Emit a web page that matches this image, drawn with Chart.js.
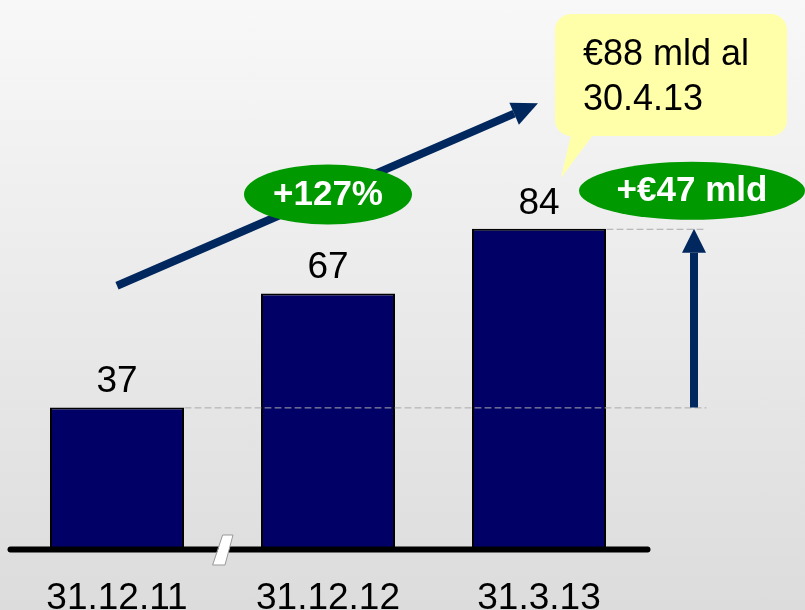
<!DOCTYPE html>
<html>
<head>
<meta charset="UTF-8" />
<title>Crescita</title>
<script src="https://cdn.jsdelivr.net/npm/chart.js@4.4.0/dist/chart.umd.min.js"></script>
<style>
    body { margin: 0; width: 805px; height: 610px; overflow: hidden;
           background: linear-gradient(#f8f8f8, #dcdcdc); }
</style>
</head>
<body>
<canvas id="barChart" width="805" height="610"></canvas>
<script>
// data
var dates = ["31.12.11", "31.12.12", "31.3.13"];
var values = [37, 67, 84];
var growthLabel = "+127%";
var deltaLabel = "+€47 mld";
var noteLines = ["€88 mld al", "30.4.13"];

var FONT = '"Liberation Sans", Arial, sans-serif';
var NAVY = "#00285e";
var GREEN = "#009900";

function ellipseLabel(ctx, cx, cy, rx, ry, text) {
    ctx.fillStyle = GREEN;
    ctx.beginPath();
    ctx.ellipse(cx, cy, rx, ry, 0, 0, Math.PI * 2);
    ctx.fill();
    ctx.fillStyle = "#fff";
    ctx.font = "bold 35px " + FONT;
    ctx.textAlign = "center";
    ctx.textBaseline = "middle";
    ctx.fillText(text, cx, cy + 1);
}

function arrow(ctx, x1, y1, x2, y2, w, headLen, headW) {
    var a = Math.atan2(y2 - y1, x2 - x1);
    var bx = x2 - Math.cos(a) * headLen, by = y2 - Math.sin(a) * headLen;
    ctx.strokeStyle = NAVY;
    ctx.fillStyle = NAVY;
    ctx.lineWidth = w;
    ctx.lineCap = "butt";
    ctx.beginPath();
    ctx.moveTo(x1, y1);
    ctx.lineTo(bx, by);
    ctx.stroke();
    ctx.beginPath();
    ctx.moveTo(x2, y2);
    ctx.lineTo(bx + Math.sin(a) * headW / 2, by - Math.cos(a) * headW / 2);
    ctx.lineTo(bx - Math.sin(a) * headW / 2, by + Math.cos(a) * headW / 2);
    ctx.closePath();
    ctx.fill();
}

var extras = {
    id: "extras",
    afterDatasetsDraw: function (chart) {
        var ctx = chart.ctx;
        var xs = chart.scales.x, ys = chart.scales.y;
        var bars = chart.getDatasetMeta(0).data;
        var x = function (i) { return xs.getPixelForValue(i); };
        var y = function (v) { return ys.getPixelForValue(v); };
        var area = chart.chartArea;
        ctx.save();

        // baseline
        ctx.strokeStyle = "#000";
        ctx.lineWidth = 6;
        ctx.lineCap = "round";
        ctx.beginPath();
        ctx.moveTo(area.left - 1, area.bottom + 1.5);
        ctx.lineTo(area.right + 3, area.bottom + 1.5);
        ctx.stroke();

        // axis break
        var bx = (x(0) + x(1)) / 2;
        var by = area.bottom + 2;
        ctx.fillStyle = "#fff";
        ctx.strokeStyle = "#999";
        ctx.lineWidth = 1;
        ctx.beginPath();
        ctx.moveTo(bx + 0.5, by - 15);
        ctx.lineTo(bx + 10.5, by - 15);
        ctx.lineTo(bx + 2.5, by + 15);
        ctx.lineTo(bx - 9.5, by + 15);
        ctx.closePath();
        ctx.fill();
        ctx.stroke();

        // values above bars
        ctx.fillStyle = "#000";
        ctx.font = "37px " + FONT;
        ctx.textAlign = "center";
        ctx.textBaseline = "alphabetic";
        bars.forEach(function (b, i) {
            ctx.fillText(String(values[i]), b.x, b.y - 15);
        });

        // dashed reference lines
        var rightX = x(2) + 167;
        ctx.strokeStyle = "#aaa";
        ctx.lineWidth = 1;
        ctx.setLineDash([6, 4]);
        ctx.beginPath();
        ctx.moveTo(bars[0].x + bars[0].width / 2 + 1, y(values[0]) + 0.5);
        ctx.lineTo(rightX, y(values[0]) + 0.5);
        ctx.moveTo(bars[2].x + bars[2].width / 2 + 1, y(values[2]) + 0.5);
        ctx.lineTo(rightX, y(values[2]) + 0.5);
        ctx.stroke();
        ctx.setLineDash([]);

        // growth arrow and label
        arrow(ctx, x(0), y(69), x(2) - 1, y(117), 8, 26, 24);
        ellipseLabel(ctx, x(1), y(93), 84, 30, growthLabel);

        // delta arrow and label
        var ax = x(2) + 155;
        arrow(ctx, ax, y(values[0]), ax, y(values[2]), 8, 24, 24);
        ellipseLabel(ctx, x(2) + 153, y(94), 113, 29, deltaLabel);

        // callout
        var cl = x(2) + 16, ct = y(140.5), cr = x(2) + 248, cb = y(108.4);
        ctx.fillStyle = "#ffffaa";
        ctx.beginPath();
        ctx.roundRect(cl, ct, cr - cl, cb - ct, 16);
        ctx.fill();
        ctx.beginPath();
        ctx.moveTo(cl + 16, cb - 1);
        ctx.lineTo(cl + 38, cb - 1);
        ctx.lineTo(x(2) + 22, y(97.4));
        ctx.closePath();
        ctx.fill();
        ctx.fillStyle = "#000";
        ctx.font = "36px " + FONT;
        ctx.textAlign = "left";
        ctx.textBaseline = "alphabetic";
        ctx.fillText(noteLines[0], cl + 28, ct + 51);
        ctx.fillText(noteLines[1], cl + 28, ct + 96);

        ctx.restore();
    }
};

var ctx = document.getElementById("barChart");
var barChart = new Chart(ctx, {
    type: "bar",
    data: {
        labels: dates,
        datasets: [{
            data: values,
            backgroundColor: "#000066",
            borderColor: "#000",
            borderWidth: 2,
            barPercentage: 0.635,
            categoryPercentage: 1
        }]
    },
    options: {
        responsive: false,
        animation: false,
        layout: { padding: { left: 11.5, right: 160.5, top: 0, bottom: 0 } },
        plugins: { legend: { display: false }, tooltip: { enabled: false } },
        scales: {
            x: {
                grid: { display: false, drawTicks: false },
                border: { display: false },
                ticks: {
                    color: "#000",
                    padding: 36,
                    maxRotation: 0,
                    font: { family: FONT, size: 37, lineHeight: 0.81 }
                },
                afterFit: function (scale) { scale.height = 62; }
            },
            y: { display: false, min: 0, max: 144.2 }
        }
    },
    plugins: [extras]
});
</script>
</body>
</html>
